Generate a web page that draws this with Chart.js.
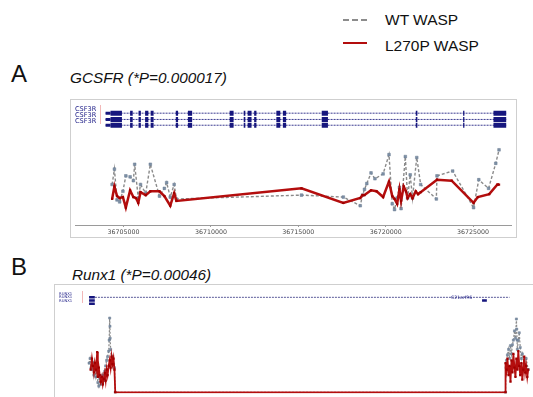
<!DOCTYPE html>
<html><head><meta charset="utf-8">
<script src="https://cdn.jsdelivr.net/npm/chart.js@4"></script>
<style>
html,body{margin:0;padding:0;background:#fff;overflow:hidden;width:533px;height:397px;font-family:"Liberation Sans",Arial,sans-serif;}
.t{position:absolute;white-space:nowrap;color:#111;line-height:1;}
.box{position:absolute;border:1px solid #cfcfcf;}
.g{position:absolute;white-space:nowrap;color:#1c1c86;line-height:1;font-family:"DejaVu Sans",sans-serif;}
</style></head><body>
<script>
// ---------- Panel A : GCSFR (CSF3R) ----------
const tickA = [36705000, 36710000, 36715000, 36720000, 36725000];
const wtA_pos = [36704346,36704477,36704626,36704776,36704963,36705131,36705374,36705561,36705636,36705841,36705972,36706270,36706532,36707055,36707335,36707466,36707672,36707896,36708027,36715182,36717574,36718545,36718676,36718788,36718919,36719162,36719386,36719853,36720190,36720376,36720507,36720656,36720788,36720881,36721124,36721255,36721404,36721535,36721778,36722002,36722899,36722936,36723833,36725029,36725328,36725888,36726299,36726486];
const wtA_val = [42,58,26,24,35,51,50,46,63,28,42,33,63,30,38,44,29,42,27,31,29,20,31,37,43,54,48,53,73,22,16,28,39,17,71,28,52,28,70,42,27,51,56,18,47,38,64,78];
const mutA_pos = [36704346,36704477,36704626,36704776,36704963,36705131,36705374,36705561,36705710,36705841,36705972,36706270,36706532,36707055,36707335,36707672,36707896,36708027,36715182,36717574,36718545,36718676,36718788,36719162,36719480,36719853,36720190,36720376,36720507,36720656,36720788,36720881,36721030,36721161,36721255,36721404,36721535,36721722,36721852,36722002,36722936,36723777,36725029,36725272,36725925,36726393,36726486];
const mutA_val = [27,40,30,28,29,18,36,29,28,23,34,31,35,35,30,20,33,25,38,23,28,31,31,36,35,29,45,30,27,22,37,25,40,35,28,32,28,35,32,34,47,46,23,29,32,42,42];
const geneA_names = ["CSF3R","CSF3R","CSF3R"];
const geneA_span = [36703972, 36726897];
const exonA = [[36704253,36704907],[36705374,36705523],[36705859,36705990],[36706233,36706420],[36706551,36706719],[36707989,36708120],[36708681,36708924],[36711072,36711296],[36711876,36711969],[36712100,36712324],[36712473,36712604],[36713744,36713968],[36714118,36714304],[36716341,36716696],[36721722,36721815],[36724431,36724505],[36726168,36726897]];
const utrA = [[36703972,36704253]];

// ---------- Panel B : RUNX1 ----------
const wtB_pos = [-1.8,-1.2,-0.6,0,0.6,1.2,1.8,2.5,3.1,3.7,4.3,4.9,5.5,6.2,6.8,7.4,8.0,8.6,9.2,9.8,10.5,10.8,11.1,11.3,11.4,11.7,12.3,12.9,13.5,14.1,14.6,258.9,259.2,259.5,260.1,260.8,261.4,262.0,262.6,263.2,263.8,264.5,265.1,265.7,265.9,266.1,266.3,266.9,267.5,268.1,268.8,269.4,270.6,271.8,273.1];
const wtB_val = [33,38,28,26,34,20,28,18,24,12,8,16,10,14,20,14,24,30,36,40,46,58,82,73,60,48,36,40,32,28,1.3,1.3,28,36,42,48,38,52,43,53,58,68,60,81,70,58,48,58,66,50,38,43,32,38,26];
const mutB_pos = [-0.8,0,0.6,1.2,1.8,2.5,3.3,3.7,4.3,4.9,5.5,6.2,6.8,7.4,8.0,8.6,9.2,9.8,10.5,11.1,11.7,12.3,12.9,13.5,14.1,14.6,258.9,258.9,259.5,260.1,260.8,261.4,262.0,262.6,263.2,263.8,264.5,265.1,265.7,266.3,266.9,267.5,268.1,268.8,269.4,270.0,270.6,271.2,271.8,272.5,273.1];
const mutB_val = [26,38,30,23,33,26,45,18,28,20,13,18,10,16,22,14,26,20,30,36,28,40,32,38,26,1.3,1.3,33,26,38,20,30,13,36,23,43,28,18,38,26,46,30,20,33,15,26,40,23,30,18,26];
const geneB_names = ["RUNX1","RUNX1","RUNX1"];
const geneB_span = [0, 261.4];
const exonB = [[-1.8,1.8],[8.4,8.8]];
const exonB2 = [[244.2,247.2]];
const legendLabels = ["WT WASP","L270P WASP"];

function pts(xs, ys){ return xs.map((x,i)=>({x:x, y:ys[i]})); }
function segs(list, yv){ const o=[]; list.forEach(([a,b])=>{o.push({x:a,y:yv},{x:b,y:yv},{x:b,y:null});}); return o; }

function el(cls, txt, css){ const d=document.createElement('div'); d.className=cls; if(txt!==null) d.textContent=txt; Object.assign(d.style, css); document.body.appendChild(d); return d; }

// Titles & legend
el('t','A',{left:'11px',top:'62px',fontSize:'24px'});
el('t','GCSFR (*P=0.000017)',{left:'70px',top:'70px',fontSize:'15.3px',fontStyle:'italic'});
el('t','B',{left:'11px',top:'255px',fontSize:'24px'});
el('t','Runx1 (*P=0.00046)',{left:'72px',top:'267px',fontSize:'15.3px',fontStyle:'italic'});
el('t',null,{left:'343px',top:'19px',width:'24px',height:'0',borderTop:'2.5px dashed #8c8c8c'});
el('t',null,{left:'343px',top:'42px',width:'24px',height:'0',borderTop:'2.5px solid #b30d0d'});
el('t',legendLabels[0],{left:'385px',top:'12px',fontSize:'15.5px'});
el('t',legendLabels[1],{left:'385px',top:'38px',fontSize:'15.5px'});

// Boxes
const boxA = el('box',null,{left:'70px',top:'99px',width:'445px',height:'137px'});
const boxB = el('box',null,{left:'54px',top:'284px',width:'510px',height:'130px'});
const cA = document.createElement('canvas'); boxA.appendChild(cA);
const cB = document.createElement('canvas'); boxB.appendChild(cB);

// gene labels
const rowPxA=[109,115.5,121.5];
geneA_names.forEach((n,i)=>el('g',n,{left:'75px',top:(rowPxA[i]-3.3)+'px',fontSize:'6.6px'}));
el('t',null,{left:'100px',top:'105px',width:'1px',height:'19px',background:'#f2b8b8'});
const rowPxB=[293.5,297,300.5];
geneB_names.forEach((n,i)=>el('g',n,{left:'59px',top:(rowPxB[i]-2)+'px',fontSize:'3.8px'}));
el('t',null,{left:'82px',top:'291px',width:'1px',height:'12px',background:'#f2b8b8'});
el('g','C21orf96',{left:'451px',top:'295.5px',fontSize:'4.6px'});

const navy='#16167e';
const rowValA=[116,109.5,103.5];
const common = {
  responsive:false, animation:false, events:[],
  plugins:{legend:{display:false}, tooltip:{enabled:false}},
  elements:{line:{tension:0}}
};

cA.width=445; cA.height=137; cA.style.width='445px'; cA.style.height='137px';
new Chart(cA,{
  type:'line',
  data:{datasets:[
    {label:legendLabels[1], data:pts(mutA_pos,mutA_val), borderColor:'#b40e0e', borderWidth:2.5, pointStyle:'rect', pointRadius:1.6, pointBackgroundColor:'#a00000', pointBorderColor:'#a00000', pointBorderWidth:0, order:0},
    {label:legendLabels[0], data:pts(wtA_pos,wtA_val), borderColor:'#8a8a8a', borderWidth:1.4, borderDash:[3,2], pointStyle:'rect', pointRadius:1.9, pointBackgroundColor:'#7d90a6', pointBorderColor:'#6a7d93', pointBorderWidth:0.5, order:1},
    {data:rowValA.flatMap(v=>segs(exonA,v)), borderColor:navy, borderWidth:5, borderCapStyle:'butt', pointRadius:0, spanGaps:false, order:2},
    {data:rowValA.flatMap(v=>segs(utrA,v)), borderColor:navy, borderWidth:3, borderCapStyle:'butt', pointRadius:0, spanGaps:false, order:3},
    {data:rowValA.flatMap(v=>segs([geneA_span],v)), borderColor:'#3a3a90', borderWidth:1, borderDash:[2,1], pointRadius:0, spanGaps:false, order:4}
  ]},
  options:Object.assign({}, common, {
    layout:{padding:0},
    scales:{
      x:{type:'linear', min:36702250, max:36727200,
         afterBuildTicks:s=>{s.ticks=tickA.map(v=>({value:v}));},
         afterFit:s=>{s.height=12;},
         border:{display:true,color:'#9a9a9a',width:1},
         grid:{display:true, drawOnChartArea:false, tickLength:2, color:'#9a9a9a'},
         ticks:{padding:2, font:{size:6.3, family:'"DejaVu Sans", sans-serif'}, color:'#4a4a4a', maxRotation:0, autoSkip:false, callback:v=>String(v)}},
      y:{display:false, min:0, max:125}
    }
  })
});

cB.width=510; cB.height=113; cB.style.width='510px'; cB.style.height='113px';
const rowValB=[104.5,101,97.5];
new Chart(cB,{
  type:'line',
  data:{datasets:[
    {label:legendLabels[1], data:pts(mutB_pos,mutB_val), borderColor:'#b40e0e', borderWidth:1.8, pointStyle:'rect', pointRadius:1.6, pointBackgroundColor:'#a00000', pointBorderColor:'#a00000', pointBorderWidth:0, order:0},
    {label:legendLabels[0], data:pts(wtB_pos,wtB_val), borderColor:'#8a8a8a', borderWidth:1.2, borderDash:[2,1.5], pointStyle:'rect', pointRadius:1.5, pointBackgroundColor:'#7d90a6', pointBorderColor:'#6a7d93', pointBorderWidth:0.5, order:1},
    {data:rowValB.flatMap(v=>segs(exonB,v)).concat(segs(exonB2,rowValB[1])), borderColor:navy, borderWidth:2.5, borderCapStyle:'butt', pointRadius:0, spanGaps:false, order:2},
    {data:segs([geneB_span],rowValB[0]), borderColor:'#5a5a98', borderWidth:1, borderDash:[2,1], pointRadius:0, spanGaps:false, order:3}
  ]},
  options:Object.assign({}, common, {
    layout:{padding:0},
    scales:{
      x:{type:'linear', display:false, min:-20.3, max:293.3},
      y:{display:false, min:0, max:113}
    }
  })
});
</script>
</body></html>
